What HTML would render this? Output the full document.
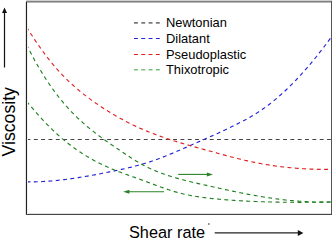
<!DOCTYPE html>
<html><head><meta charset="utf-8"><style>
html,body{margin:0;padding:0;background:#fff;}
body{width:335px;height:242px;overflow:hidden;position:relative;}
svg{position:absolute;left:0;top:0;}
text{font-family:"Liberation Sans",sans-serif;}
</style></head><body>
<svg width="335" height="242" viewBox="0 0 335 242">
<rect x="0" y="0" width="335" height="242" fill="#fff"/>
<g fill="none" stroke-width="1.15" stroke-dasharray="3.9 3.43">
<path d="M26.5,139.5 L331,139.5" stroke="#444"/>
<path d="M26.50,181.83 L27.50,181.85 L28.50,181.86 L29.50,181.86 L30.50,181.87 L31.50,181.86 L32.50,181.86 L33.50,181.84 L34.50,181.83 L35.50,181.81 L36.50,181.78 L37.50,181.76 L38.50,181.72 L39.50,181.69 L40.50,181.65 L41.50,181.60 L42.50,181.55 L43.50,181.50 L44.50,181.44 L45.50,181.38 L46.50,181.32 L47.50,181.25 L48.50,181.18 L49.50,181.11 L50.50,181.03 L51.50,180.95 L52.50,180.86 L53.50,180.77 L54.50,180.68 L55.50,180.58 L56.50,180.49 L57.50,180.38 L58.50,180.28 L59.50,180.17 L60.50,180.06 L61.50,179.95 L62.50,179.83 L63.50,179.71 L64.50,179.59 L65.50,179.46 L66.50,179.33 L67.50,179.20 L68.50,179.07 L69.50,178.93 L70.50,178.79 L71.50,178.65 L72.50,178.51 L73.50,178.36 L74.50,178.21 L75.50,178.06 L76.50,177.91 L77.50,177.76 L78.50,177.60 L79.50,177.44 L80.50,177.28 L81.50,177.11 L82.50,176.95 L83.50,176.78 L84.50,176.61 L85.50,176.44 L86.50,176.27 L87.50,176.09 L88.50,175.92 L89.50,175.74 L90.50,175.56 L91.50,175.38 L92.50,175.19 L93.50,175.01 L94.50,174.82 L95.50,174.64 L96.50,174.45 L97.50,174.26 L98.50,174.07 L99.50,173.88 L100.50,173.69 L101.50,173.49 L102.50,173.30 L103.50,173.10 L104.50,172.90 L105.50,172.71 L106.50,172.51 L107.50,172.31 L108.50,172.11 L109.50,171.91 L110.50,171.71 L111.50,171.51 L112.50,171.30 L113.50,171.10 L114.50,170.89 L115.50,170.68 L116.50,170.47 L117.50,170.26 L118.50,170.05 L119.50,169.84 L120.50,169.62 L121.50,169.40 L122.50,169.18 L123.50,168.96 L124.50,168.73 L125.50,168.50 L126.50,168.27 L127.50,168.04 L128.50,167.80 L129.50,167.56 L130.50,167.32 L131.50,167.07 L132.50,166.82 L133.50,166.57 L134.50,166.31 L135.50,166.05 L136.50,165.78 L137.50,165.52 L138.50,165.24 L139.50,164.97 L140.50,164.69 L141.50,164.40 L142.50,164.11 L143.50,163.82 L144.50,163.52 L145.50,163.21 L146.50,162.91 L147.50,162.59 L148.50,162.27 L149.50,161.95 L150.50,161.62 L151.50,161.29 L152.50,160.94 L153.50,160.60 L154.50,160.25 L155.50,159.89 L156.50,159.53 L157.50,159.17 L158.50,158.80 L159.50,158.42 L160.50,158.04 L161.50,157.66 L162.50,157.27 L163.50,156.88 L164.50,156.49 L165.50,156.09 L166.50,155.69 L167.50,155.29 L168.50,154.88 L169.50,154.47 L170.50,154.05 L171.50,153.64 L172.50,153.22 L173.50,152.80 L174.50,152.37 L175.50,151.95 L176.50,151.52 L177.50,151.09 L178.50,150.66 L179.50,150.23 L180.50,149.79 L181.50,149.36 L182.50,148.92 L183.50,148.48 L184.50,148.04 L185.50,147.60 L186.50,147.16 L187.50,146.72 L188.50,146.28 L189.50,145.84 L190.50,145.40 L191.50,144.96 L192.50,144.52 L193.50,144.08 L194.50,143.64 L195.50,143.20 L196.50,142.76 L197.50,142.32 L198.50,141.88 L199.50,141.44 L200.50,141.00 L201.50,140.56 L202.50,140.12 L203.50,139.67 L204.50,139.23 L205.50,138.79 L206.50,138.34 L207.50,137.90 L208.50,137.45 L209.50,137.01 L210.50,136.56 L211.50,136.11 L212.50,135.66 L213.50,135.21 L214.50,134.76 L215.50,134.31 L216.50,133.86 L217.50,133.40 L218.50,132.94 L219.50,132.48 L220.50,132.02 L221.50,131.56 L222.50,131.10 L223.50,130.63 L224.50,130.16 L225.50,129.69 L226.50,129.22 L227.50,128.75 L228.50,128.27 L229.50,127.79 L230.50,127.31 L231.50,126.83 L232.50,126.34 L233.50,125.86 L234.50,125.37 L235.50,124.87 L236.50,124.37 L237.50,123.87 L238.50,123.36 L239.50,122.85 L240.50,122.34 L241.50,121.82 L242.50,121.29 L243.50,120.76 L244.50,120.23 L245.50,119.69 L246.50,119.14 L247.50,118.58 L248.50,118.02 L249.50,117.45 L250.50,116.88 L251.50,116.29 L252.50,115.70 L253.50,115.10 L254.50,114.49 L255.50,113.87 L256.50,113.25 L257.50,112.61 L258.50,111.97 L259.50,111.31 L260.50,110.65 L261.50,109.97 L262.50,109.28 L263.50,108.59 L264.50,107.88 L265.50,107.16 L266.50,106.43 L267.50,105.69 L268.50,104.93 L269.50,104.17 L270.50,103.39 L271.50,102.61 L272.50,101.81 L273.50,101.00 L274.50,100.18 L275.50,99.35 L276.50,98.51 L277.50,97.66 L278.50,96.80 L279.50,95.92 L280.50,95.04 L281.50,94.15 L282.50,93.24 L283.50,92.33 L284.50,91.40 L285.50,90.46 L286.50,89.52 L287.50,88.56 L288.50,87.59 L289.50,86.62 L290.50,85.63 L291.50,84.63 L292.50,83.62 L293.50,82.60 L294.50,81.57 L295.50,80.54 L296.50,79.49 L297.50,78.43 L298.50,77.36 L299.50,76.28 L300.50,75.20 L301.50,74.10 L302.50,72.99 L303.50,71.88 L304.50,70.75 L305.50,69.61 L306.50,68.47 L307.50,67.31 L308.50,66.15 L309.50,64.97 L310.50,63.79 L311.50,62.60 L312.50,61.40 L313.50,60.19 L314.50,58.97 L315.50,57.74 L316.50,56.50 L317.50,55.25 L318.50,53.99 L319.50,52.73 L320.50,51.45 L321.50,50.17 L322.50,48.88 L323.50,47.58 L324.50,46.27 L325.50,44.95 L326.50,43.62 L327.50,42.29 L328.50,40.94 L329.50,39.59 L330.50,38.23" stroke="#2222d8"/>
<path d="M26.50,26.89 L27.50,28.49 L28.50,30.08 L29.50,31.66 L30.50,33.22 L31.50,34.77 L32.50,36.31 L33.50,37.84 L34.50,39.35 L35.50,40.84 L36.50,42.32 L37.50,43.79 L38.50,45.24 L39.50,46.67 L40.50,48.09 L41.50,49.49 L42.50,50.88 L43.50,52.25 L44.50,53.60 L45.50,54.94 L46.50,56.26 L47.50,57.56 L48.50,58.85 L49.50,60.12 L50.50,61.37 L51.50,62.60 L52.50,63.82 L53.50,65.02 L54.50,66.20 L55.50,67.36 L56.50,68.51 L57.50,69.64 L58.50,70.76 L59.50,71.86 L60.50,72.94 L61.50,74.01 L62.50,75.06 L63.50,76.09 L64.50,77.12 L65.50,78.12 L66.50,79.12 L67.50,80.10 L68.50,81.06 L69.50,82.01 L70.50,82.95 L71.50,83.88 L72.50,84.79 L73.50,85.69 L74.50,86.58 L75.50,87.46 L76.50,88.33 L77.50,89.18 L78.50,90.02 L79.50,90.86 L80.50,91.68 L81.50,92.49 L82.50,93.29 L83.50,94.09 L84.50,94.87 L85.50,95.64 L86.50,96.41 L87.50,97.17 L88.50,97.91 L89.50,98.65 L90.50,99.39 L91.50,100.11 L92.50,100.83 L93.50,101.54 L94.50,102.24 L95.50,102.94 L96.50,103.63 L97.50,104.32 L98.50,104.99 L99.50,105.67 L100.50,106.34 L101.50,107.00 L102.50,107.65 L103.50,108.31 L104.50,108.95 L105.50,109.59 L106.50,110.22 L107.50,110.85 L108.50,111.47 L109.50,112.09 L110.50,112.70 L111.50,113.31 L112.50,113.90 L113.50,114.50 L114.50,115.09 L115.50,115.67 L116.50,116.25 L117.50,116.82 L118.50,117.38 L119.50,117.94 L120.50,118.50 L121.50,119.05 L122.50,119.59 L123.50,120.13 L124.50,120.66 L125.50,121.18 L126.50,121.71 L127.50,122.22 L128.50,122.73 L129.50,123.23 L130.50,123.73 L131.50,124.23 L132.50,124.71 L133.50,125.20 L134.50,125.67 L135.50,126.14 L136.50,126.61 L137.50,127.07 L138.50,127.52 L139.50,127.97 L140.50,128.42 L141.50,128.86 L142.50,129.29 L143.50,129.72 L144.50,130.15 L145.50,130.57 L146.50,130.98 L147.50,131.39 L148.50,131.80 L149.50,132.20 L150.50,132.60 L151.50,132.99 L152.50,133.38 L153.50,133.76 L154.50,134.14 L155.50,134.52 L156.50,134.89 L157.50,135.26 L158.50,135.62 L159.50,135.98 L160.50,136.34 L161.50,136.69 L162.50,137.04 L163.50,137.39 L164.50,137.73 L165.50,138.07 L166.50,138.41 L167.50,138.74 L168.50,139.07 L169.50,139.40 L170.50,139.73 L171.50,140.05 L172.50,140.37 L173.50,140.68 L174.50,141.00 L175.50,141.31 L176.50,141.62 L177.50,141.92 L178.50,142.23 L179.50,142.53 L180.50,142.83 L181.50,143.13 L182.50,143.42 L183.50,143.72 L184.50,144.01 L185.50,144.30 L186.50,144.59 L187.50,144.88 L188.50,145.17 L189.50,145.45 L190.50,145.73 L191.50,146.02 L192.50,146.30 L193.50,146.58 L194.50,146.86 L195.50,147.13 L196.50,147.41 L197.50,147.69 L198.50,147.96 L199.50,148.24 L200.50,148.51 L201.50,148.79 L202.50,149.06 L203.50,149.34 L204.50,149.61 L205.50,149.88 L206.50,150.16 L207.50,150.43 L208.50,150.70 L209.50,150.98 L210.50,151.25 L211.50,151.52 L212.50,151.80 L213.50,152.07 L214.50,152.35 L215.50,152.62 L216.50,152.90 L217.50,153.18 L218.50,153.45 L219.50,153.73 L220.50,154.00 L221.50,154.27 L222.50,154.55 L223.50,154.82 L224.50,155.09 L225.50,155.36 L226.50,155.63 L227.50,155.90 L228.50,156.17 L229.50,156.44 L230.50,156.70 L231.50,156.97 L232.50,157.23 L233.50,157.49 L234.50,157.75 L235.50,158.00 L236.50,158.26 L237.50,158.51 L238.50,158.76 L239.50,159.01 L240.50,159.25 L241.50,159.50 L242.50,159.74 L243.50,159.97 L244.50,160.21 L245.50,160.44 L246.50,160.67 L247.50,160.90 L248.50,161.12 L249.50,161.34 L250.50,161.55 L251.50,161.77 L252.50,161.98 L253.50,162.18 L254.50,162.39 L255.50,162.59 L256.50,162.78 L257.50,162.98 L258.50,163.17 L259.50,163.36 L260.50,163.54 L261.50,163.72 L262.50,163.90 L263.50,164.08 L264.50,164.25 L265.50,164.42 L266.50,164.59 L267.50,164.75 L268.50,164.91 L269.50,165.07 L270.50,165.22 L271.50,165.38 L272.50,165.52 L273.50,165.67 L274.50,165.81 L275.50,165.95 L276.50,166.09 L277.50,166.22 L278.50,166.36 L279.50,166.48 L280.50,166.61 L281.50,166.73 L282.50,166.85 L283.50,166.97 L284.50,167.08 L285.50,167.19 L286.50,167.30 L287.50,167.41 L288.50,167.51 L289.50,167.61 L290.50,167.71 L291.50,167.80 L292.50,167.89 L293.50,167.98 L294.50,168.07 L295.50,168.15 L296.50,168.23 L297.50,168.31 L298.50,168.38 L299.50,168.46 L300.50,168.52 L301.50,168.59 L302.50,168.66 L303.50,168.72 L304.50,168.78 L305.50,168.83 L306.50,168.89 L307.50,168.94 L308.50,168.99 L309.50,169.03 L310.50,169.08 L311.50,169.12 L312.50,169.15 L313.50,169.19 L314.50,169.22 L315.50,169.25 L316.50,169.28 L317.50,169.31 L318.50,169.33 L319.50,169.35 L320.50,169.37 L321.50,169.38 L322.50,169.39 L323.50,169.41 L324.50,169.41 L325.50,169.42 L326.50,169.42 L327.50,169.42 L328.50,169.42 L329.50,169.42 L330.50,169.41 L331.00,169.40" stroke="#e02222"/>
<path d="M26.50,44.47 L27.50,46.50 L28.50,48.50 L29.50,50.47 L30.50,52.42 L31.50,54.34 L32.50,56.23 L33.50,58.09 L34.50,59.93 L35.50,61.74 L36.50,63.53 L37.50,65.28 L38.50,67.02 L39.50,68.72 L40.50,70.41 L41.50,72.06 L42.50,73.70 L43.50,75.31 L44.50,76.89 L45.50,78.45 L46.50,79.99 L47.50,81.51 L48.50,83.00 L49.50,84.47 L50.50,85.92 L51.50,87.35 L52.50,88.75 L53.50,90.13 L54.50,91.50 L55.50,92.84 L56.50,94.16 L57.50,95.47 L58.50,96.75 L59.50,98.01 L60.50,99.26 L61.50,100.48 L62.50,101.69 L63.50,102.88 L64.50,104.05 L65.50,105.21 L66.50,106.34 L67.50,107.46 L68.50,108.57 L69.50,109.65 L70.50,110.72 L71.50,111.78 L72.50,112.82 L73.50,113.84 L74.50,114.85 L75.50,115.85 L76.50,116.83 L77.50,117.80 L78.50,118.75 L79.50,119.69 L80.50,120.62 L81.50,121.53 L82.50,122.43 L83.50,123.32 L84.50,124.20 L85.50,125.07 L86.50,125.92 L87.50,126.77 L88.50,127.60 L89.50,128.42 L90.50,129.24 L91.50,130.04 L92.50,130.83 L93.50,131.62 L94.50,132.40 L95.50,133.17 L96.50,133.93 L97.50,134.68 L98.50,135.43 L99.50,136.17 L100.50,136.90 L101.50,137.63 L102.50,138.35 L103.50,139.07 L104.50,139.78 L105.50,140.49 L106.50,141.19 L107.50,141.89 L108.50,142.59 L109.50,143.28 L110.50,143.97 L111.50,144.66 L112.50,145.35 L113.50,146.03 L114.50,146.71 L115.50,147.40 L116.50,148.08 L117.50,148.76 L118.50,149.44 L119.50,150.12 L120.50,150.80 L121.50,151.48 L122.50,152.16 L123.50,152.84 L124.50,153.51 L125.50,154.19 L126.50,154.86 L127.50,155.52 L128.50,156.18 L129.50,156.84 L130.50,157.49 L131.50,158.13 L132.50,158.77 L133.50,159.40 L134.50,160.02 L135.50,160.64 L136.50,161.25 L137.50,161.85 L138.50,162.44 L139.50,163.02 L140.50,163.59 L141.50,164.15 L142.50,164.70 L143.50,165.23 L144.50,165.76 L145.50,166.27 L146.50,166.77 L147.50,167.27 L148.50,167.75 L149.50,168.22 L150.50,168.68 L151.50,169.14 L152.50,169.58 L153.50,170.02 L154.50,170.44 L155.50,170.86 L156.50,171.27 L157.50,171.67 L158.50,172.07 L159.50,172.46 L160.50,172.84 L161.50,173.21 L162.50,173.58 L163.50,173.94 L164.50,174.30 L165.50,174.64 L166.50,174.98 L167.50,175.32 L168.50,175.65 L169.50,175.97 L170.50,176.29 L171.50,176.60 L172.50,176.91 L173.50,177.21 L174.50,177.51 L175.50,177.80 L176.50,178.09 L177.50,178.38 L178.50,178.66 L179.50,178.93 L180.50,179.20 L181.50,179.47 L182.50,179.73 L183.50,179.99 L184.50,180.25 L185.50,180.51 L186.50,180.76 L187.50,181.00 L188.50,181.25 L189.50,181.49 L190.50,181.73 L191.50,181.97 L192.50,182.21 L193.50,182.44 L194.50,182.67 L195.50,182.90 L196.50,183.13 L197.50,183.36 L198.50,183.59 L199.50,183.82 L200.50,184.04 L201.50,184.27 L202.50,184.49 L203.50,184.71 L204.50,184.94 L205.50,185.16 L206.50,185.39 L207.50,185.61 L208.50,185.84 L209.50,186.06 L210.50,186.28 L211.50,186.51 L212.50,186.73 L213.50,186.96 L214.50,187.18 L215.50,187.41 L216.50,187.63 L217.50,187.85 L218.50,188.08 L219.50,188.30 L220.50,188.52 L221.50,188.74 L222.50,188.96 L223.50,189.18 L224.50,189.40 L225.50,189.62 L226.50,189.84 L227.50,190.06 L228.50,190.27 L229.50,190.49 L230.50,190.70 L231.50,190.92 L232.50,191.13 L233.50,191.34 L234.50,191.55 L235.50,191.76 L236.50,191.97 L237.50,192.17 L238.50,192.38 L239.50,192.58 L240.50,192.79 L241.50,192.99 L242.50,193.18 L243.50,193.38 L244.50,193.58 L245.50,193.77 L246.50,193.96 L247.50,194.16 L248.50,194.34 L249.50,194.53 L250.50,194.72 L251.50,194.90 L252.50,195.08 L253.50,195.26 L254.50,195.44 L255.50,195.62 L256.50,195.79 L257.50,195.97 L258.50,196.14 L259.50,196.31 L260.50,196.47 L261.50,196.64 L262.50,196.80 L263.50,196.96 L264.50,197.12 L265.50,197.28 L266.50,197.43 L267.50,197.59 L268.50,197.74 L269.50,197.88 L270.50,198.03 L271.50,198.17 L272.50,198.32 L273.50,198.46 L274.50,198.59 L275.50,198.73 L276.50,198.86 L277.50,198.99 L278.50,199.12 L279.50,199.24 L280.50,199.37 L281.50,199.49 L282.50,199.61 L283.50,199.72 L284.50,199.84 L285.50,199.95 L286.50,200.06 L287.50,200.16 L288.50,200.27 L289.50,200.37 L290.50,200.47 L291.50,200.56 L292.50,200.65 L293.50,200.74 L294.50,200.83 L295.50,200.92 L296.50,201.00 L297.50,201.08 L298.50,201.16 L299.50,201.23 L300.50,201.30 L301.50,201.37 L302.50,201.43 L303.50,201.50 L304.50,201.56 L305.50,201.61 L306.50,201.67 L307.50,201.72 L308.50,201.77 L309.50,201.81 L310.50,201.85 L311.50,201.89 L312.50,201.93 L313.50,201.96 L314.50,201.99 L315.50,202.02 L316.50,202.04 L317.50,202.06 L318.50,202.08 L319.50,202.09 L320.50,202.10 L321.50,202.11 L322.50,202.11 L323.50,202.11 L324.50,202.11 L325.50,202.10 L326.50,202.09 L327.50,202.08 L328.50,202.07 L329.50,202.05 L330.50,202.02 L331.00,202.01" stroke="#218021"/>
<path d="M26.50,101.40 L27.50,102.53 L28.50,103.67 L29.50,104.82 L30.50,105.98 L31.50,107.14 L32.50,108.31 L33.50,109.48 L34.50,110.65 L35.50,111.81 L36.50,112.96 L37.50,114.11 L38.50,115.24 L39.50,116.36 L40.50,117.47 L41.50,118.57 L42.50,119.65 L43.50,120.73 L44.50,121.79 L45.50,122.83 L46.50,123.87 L47.50,124.89 L48.50,125.90 L49.50,126.90 L50.50,127.89 L51.50,128.86 L52.50,129.83 L53.50,130.78 L54.50,131.72 L55.50,132.65 L56.50,133.56 L57.50,134.47 L58.50,135.36 L59.50,136.25 L60.50,137.12 L61.50,137.98 L62.50,138.83 L63.50,139.67 L64.50,140.50 L65.50,141.31 L66.50,142.12 L67.50,142.91 L68.50,143.70 L69.50,144.47 L70.50,145.24 L71.50,145.99 L72.50,146.74 L73.50,147.47 L74.50,148.19 L75.50,148.91 L76.50,149.61 L77.50,150.31 L78.50,150.99 L79.50,151.66 L80.50,152.33 L81.50,152.98 L82.50,153.63 L83.50,154.27 L84.50,154.89 L85.50,155.51 L86.50,156.12 L87.50,156.72 L88.50,157.31 L89.50,157.90 L90.50,158.47 L91.50,159.04 L92.50,159.59 L93.50,160.14 L94.50,160.68 L95.50,161.21 L96.50,161.74 L97.50,162.26 L98.50,162.77 L99.50,163.27 L100.50,163.76 L101.50,164.25 L102.50,164.73 L103.50,165.20 L104.50,165.67 L105.50,166.13 L106.50,166.58 L107.50,167.03 L108.50,167.47 L109.50,167.91 L110.50,168.34 L111.50,168.76 L112.50,169.18 L113.50,169.59 L114.50,170.00 L115.50,170.40 L116.50,170.79 L117.50,171.18 L118.50,171.57 L119.50,171.95 L120.50,172.33 L121.50,172.71 L122.50,173.08 L123.50,173.45 L124.50,173.81 L125.50,174.18 L126.50,174.54 L127.50,174.90 L128.50,175.26 L129.50,175.61 L130.50,175.97 L131.50,176.32 L132.50,176.68 L133.50,177.03 L134.50,177.38 L135.50,177.74 L136.50,178.09 L137.50,178.45 L138.50,178.80 L139.50,179.16 L140.50,179.52 L141.50,179.88 L142.50,180.25 L143.50,180.61 L144.50,180.98 L145.50,181.35 L146.50,181.72 L147.50,182.10 L148.50,182.47 L149.50,182.84 L150.50,183.22 L151.50,183.59 L152.50,183.97 L153.50,184.34 L154.50,184.72 L155.50,185.09 L156.50,185.46 L157.50,185.83 L158.50,186.20 L159.50,186.57 L160.50,186.93 L161.50,187.29 L162.50,187.65 L163.50,188.00 L164.50,188.35 L165.50,188.70 L166.50,189.04 L167.50,189.38 L168.50,189.71 L169.50,190.04 L170.50,190.36 L171.50,190.68 L172.50,190.99 L173.50,191.29 L174.50,191.59 L175.50,191.88 L176.50,192.17 L177.50,192.44 L178.50,192.71 L179.50,192.98 L180.50,193.23 L181.50,193.48 L182.50,193.72 L183.50,193.96 L184.50,194.19 L185.50,194.41 L186.50,194.63 L187.50,194.84 L188.50,195.04 L189.50,195.24 L190.50,195.44 L191.50,195.63 L192.50,195.81 L193.50,195.99 L194.50,196.16 L195.50,196.33 L196.50,196.49 L197.50,196.65 L198.50,196.80 L199.50,196.95 L200.50,197.10 L201.50,197.24 L202.50,197.37 L203.50,197.51 L204.50,197.64 L205.50,197.76 L206.50,197.89 L207.50,198.01 L208.50,198.12 L209.50,198.23 L210.50,198.34 L211.50,198.45 L212.50,198.56 L213.50,198.66 L214.50,198.76 L215.50,198.86 L216.50,198.95 L217.50,199.05 L218.50,199.14 L219.50,199.23 L220.50,199.32 L221.50,199.40 L222.50,199.49 L223.50,199.57 L224.50,199.65 L225.50,199.74 L226.50,199.82 L227.50,199.89 L228.50,199.97 L229.50,200.04 L230.50,200.12 L231.50,200.19 L232.50,200.26 L233.50,200.33 L234.50,200.40 L235.50,200.46 L236.50,200.53 L237.50,200.59 L238.50,200.65 L239.50,200.72 L240.50,200.77 L241.50,200.83 L242.50,200.89 L243.50,200.95 L244.50,201.00 L245.50,201.05 L246.50,201.10 L247.50,201.15 L248.50,201.20 L249.50,201.25 L250.50,201.30 L251.50,201.34 L252.50,201.39 L253.50,201.43 L254.50,201.47 L255.50,201.51 L256.50,201.55 L257.50,201.59 L258.50,201.63 L259.50,201.67 L260.50,201.70 L261.50,201.73 L262.50,201.77 L263.50,201.80 L264.50,201.83 L265.50,201.86 L266.50,201.89 L267.50,201.91 L268.50,201.94 L269.50,201.97 L270.50,201.99 L271.50,202.01 L272.50,202.04 L273.50,202.06 L274.50,202.08 L275.50,202.10 L276.50,202.12 L277.50,202.13 L278.50,202.15 L279.50,202.16 L280.50,202.18 L281.50,202.19 L282.50,202.21 L283.50,202.22 L284.50,202.23 L285.50,202.24 L286.50,202.25 L287.50,202.26 L288.50,202.27 L289.50,202.27 L290.50,202.28 L291.50,202.29 L292.50,202.29 L293.50,202.29 L294.50,202.30 L295.50,202.30 L296.50,202.30 L297.50,202.30 L298.50,202.30 L299.50,202.30 L300.50,202.30 L301.50,202.30 L302.50,202.30 L303.50,202.29 L304.50,202.29 L305.50,202.29 L306.50,202.28 L307.50,202.28 L308.50,202.27 L309.50,202.26 L310.50,202.26 L311.50,202.25 L312.50,202.24 L313.50,202.23 L314.50,202.22 L315.50,202.21 L316.50,202.20 L317.50,202.19 L318.50,202.18 L319.50,202.17 L320.50,202.15 L321.50,202.14 L322.50,202.13 L323.50,202.11 L324.50,202.10 L325.50,202.08 L326.50,202.07 L327.50,202.05 L328.50,202.04 L329.50,202.02 L330.50,202.01 L331.00,202.00" stroke="#218021"/>
</g>
<!-- frame -->
<rect x="26" y="0" width="306" height="1" fill="#d0d0d0"/>
<rect x="26" y="1" width="306" height="1" fill="#808080"/>
<rect x="26" y="2" width="306" height="1" fill="#b8b8b8"/>
<rect x="25" y="2" width="1" height="213" fill="#e2e2e2"/>
<rect x="26" y="2" width="1" height="213" fill="#222"/>
<rect x="27" y="3" width="1" height="210" fill="#f0f0f0"/>
<rect x="331" y="1" width="1" height="214" fill="#555"/>
<rect x="28" y="213" width="303" height="1" fill="#e0e0e0"/>
<rect x="26" y="214" width="306" height="1" fill="#454545"/>
<!-- legend -->
<g fill="none" stroke-dasharray="3.9 3.4">
<path d="M134,22.9 L160,22.9" stroke="#7a7a7a" stroke-width="1.6"/>
<path d="M134,38.5 L160,38.5" stroke="#2222dd" stroke-width="1.1"/>
<path d="M134,54.5 L160,54.5" stroke="#e61e1e" stroke-width="1.1"/>
<path d="M134,69.8 L160,69.8" stroke="#78c078" stroke-width="1.6"/>
</g>
<g font-size="12.9" fill="#000">
<text x="166.0" y="27.3">Newtonian</text>
<text x="166.0" y="42.8">Dilatant</text>
<text x="166.0" y="58.6">Pseudoplastic</text>
<text x="166.0" y="73.9">Thixotropic</text>
</g>
<!-- green arrows -->
<path d="M178.2,174.4 L208,174.4" stroke="#2a822a" stroke-width="1.1"/>
<path d="M213,174.4 L206.8,172.4 L206.8,176.4 Z" fill="#2a822a"/>
<path d="M129,191.7 L164,191.7" stroke="#2a822a" stroke-width="1.1"/>
<path d="M123.2,191.7 L129.4,189.7 L129.4,193.7 Z" fill="#2a822a"/>
<!-- y axis label -->
<path d="M4.5,12 L4.5,67.5" stroke="#111" stroke-width="1.2"/>
<path d="M4.5,7.5 L2,13 L7,13 Z" fill="#111"/>
<text transform="translate(14.9,156.5) rotate(-90)" font-size="17.7" fill="#000">Viscosity</text>
<!-- x axis label -->
<text x="129" y="237.9" font-size="16.3" fill="#000">Shear rate</text>
<circle cx="208.9" cy="224" r="0.75" fill="#222"/>
<path d="M214.7,232.9 L298,232.9" stroke="#222" stroke-width="1.2"/>
<path d="M303.4,232.9 L297.8,230 L297.8,235.9 Z" fill="#111"/>
</svg>
</body></html>
